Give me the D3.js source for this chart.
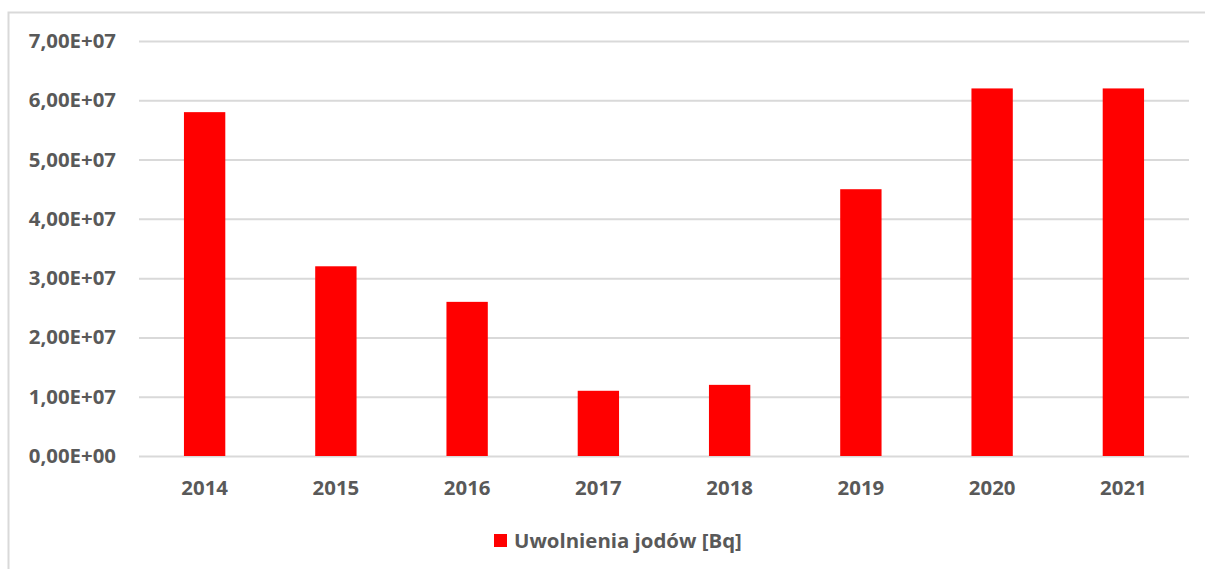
<!DOCTYPE html>
<html><head><meta charset="utf-8">
<script src="https://cdn.jsdelivr.net/npm/d3@7"></script>
<style>body{margin:0;background:#fff;}svg{display:block;}</style>
</head><body>
<svg id="c" width="1205" height="569"></svg>
<script>
const years = ["2014","2015","2016","2017","2018","2019","2020","2021"];
const values = [5.8e7, 3.2e7, 2.6e7, 1.1e7, 1.2e7, 4.5e7, 6.2e7, 6.2e7];
const yTicks = [0, 1e7, 2e7, 3e7, 4e7, 5e7, 6e7, 7e7];
const seriesName = "Uwolnienia jodów [Bq]";

(function(){
const svg = d3.select("#c");
const font = "'Open Sans', sans-serif";
const textColor = "#595959";
const fs = "20.4px";

svg.append("rect").attr("x",8.5).attr("y",12.5).attr("width",1300).attr("height",700)
  .attr("fill","none").attr("stroke","#d9d9d9").attr("stroke-width",2);

const mL = 139, mR = 1189, mT = 41, mB = 456;
const x = d3.scaleBand().domain(years).range([mL,mR]).paddingInner(0.685).paddingOuter(0.3425);
const y = d3.scaleLinear().domain([0,7e7]).range([mB, mT]);

const fmt = v => {
  if (v === 0) return "0,00E+00";
  const e = Math.floor(Math.log10(v));
  const m = v / Math.pow(10,e);
  return m.toFixed(2).replace(".",",") + "E+" + String(e).padStart(2,"0");
};

const yAxis = d3.axisLeft(y).tickValues(yTicks).tickSize(-(mR-mL)).tickFormat(fmt).tickPadding(23);
const gy = svg.append("g").attr("transform",`translate(${mL},0)`).call(yAxis);
gy.select(".domain").remove();
gy.selectAll(".tick line").attr("stroke","#d9d9d9").attr("stroke-width",2);
gy.selectAll(".tick text").attr("fill",textColor).style("font-family",font).style("font-size",fs).style("font-weight","700");

svg.append("g").selectAll("rect").data(values).join("rect")
  .attr("x",(d,i)=>x(years[i])).attr("width",x.bandwidth())
  .attr("y",d=>y(d)).attr("height",d=>y(0)-y(d)).attr("fill","#ff0000");

const xAxis = d3.axisBottom(x).tickSize(0).tickPadding(25);
const gx = svg.append("g").attr("transform",`translate(0,${mB})`).call(xAxis);
gx.select(".domain").remove();
gx.selectAll(".tick text").attr("fill",textColor).style("font-family",font).style("font-size",fs).style("font-weight","700");

const lg = svg.append("g").attr("transform","translate(494,534)");
lg.append("rect").attr("width",13).attr("height",13).attr("fill","#ff0000");
lg.append("text").attr("x",20).attr("y",7).attr("dy","0.35em").text(seriesName)
  .attr("fill",textColor).style("font-family",font).style("font-size",fs).style("font-weight","700");
})();
</script>
</body></html>
